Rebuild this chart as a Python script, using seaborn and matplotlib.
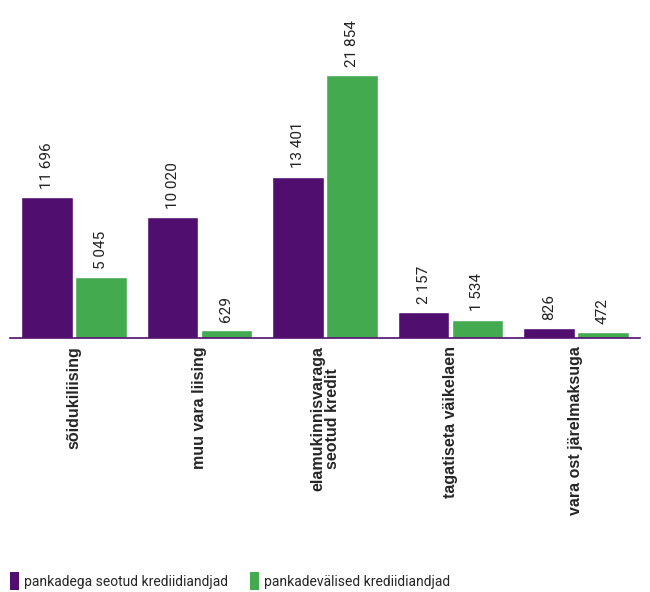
import matplotlib
matplotlib.use("Agg")
import matplotlib.pyplot as plt
import seaborn as sns
import pandas as pd
from matplotlib.patches import Patch

categories = ["sõidukiliising", "muu vara liising", "elamukinnisvaraga\nseotud kredit",
              "tagatiseta väikelaen", "vara ost järelmaksuga"]
series_names = ["pankadega seotud krediidiandjad", "pankadevälised krediidiandjad"]
bank_values = [11696, 10020, 13401, 2157, 826]
nonbank_values = [5045, 629, 21854, 1534, 472]
colors = ["#500F6E", "#44AA50"]

rows = []
for c, v in zip(categories, bank_values):
    rows.append({"cat": c, "series": series_names[0], "value": v})
for c, v in zip(categories, nonbank_values):
    rows.append({"cat": c, "series": series_names[1], "value": v})
df = pd.DataFrame(rows)

sns.set_style("white")
fig = plt.figure(figsize=(6.5, 5.92), dpi=100)
ax = fig.add_axes([10/650, 1 - 338/592, 630/650, (338 - 10)/592])

sns.barplot(data=df, x="cat", y="value", hue="series", palette=colors,
            order=categories, hue_order=series_names, ax=ax, width=0.86,
            gap=0.05, saturation=1, legend=False)

def fmt(v):
    return f"{v:,}".replace(",", " ")

for cont in ax.containers:
    vals = [p.get_height() for p in cont]
    ax.bar_label(cont, labels=[fmt(int(round(v))) for v in vals], rotation=90,
                 padding=6, fontsize=11, family="Roboto", color="#222222")

ax.set_xlim(-0.51, 4.51)
ax.set_ylim(0, 27260)
ax.set_xlabel("")
ax.set_ylabel("")
ax.set_yticks([])
for s in ["top", "right", "left"]:
    ax.spines[s].set_visible(False)
ax.spines["bottom"].set_color("#500F6E")
ax.spines["bottom"].set_linewidth(1.2)
ax.tick_params(axis="x", length=0, pad=6)
ax.set_xticks(range(len(categories)))
ax.set_xticklabels(categories, rotation=90, fontsize=11.5, fontweight="bold",
                   family="Liberation Sans", va="top", ha="center",
                   linespacing=0.95)

handles = [Patch(facecolor=c, edgecolor="none") for c in colors]
fig.legend(handles, series_names, loc="lower left", bbox_to_anchor=(0.003, -0.011),
           ncol=2, frameon=False, prop={"family": "Roboto", "size": 10},
           handlelength=0.6, handleheight=1.6, handletextpad=0.4,
           columnspacing=1.6, borderaxespad=0.2)

fig.savefig("out.png", dpi=100)
